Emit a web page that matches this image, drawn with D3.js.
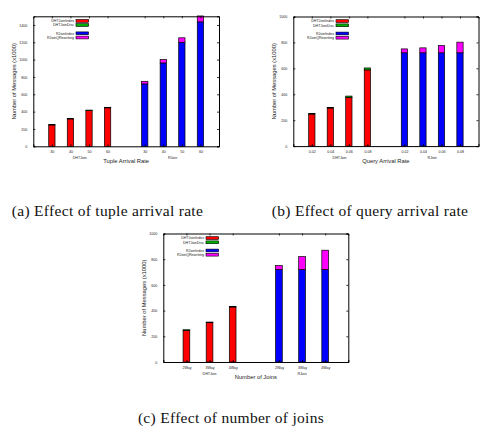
<!DOCTYPE html>
<html>
<head>
<meta charset="utf-8">
<script src="https://cdn.jsdelivr.net/npm/d3@7"></script>
<style>
  body { margin: 0; background: #fff; }
</style>
</head>
<body>
<svg width="483" height="446" font-family="'Liberation Sans', sans-serif"></svg>
<script>

// values (messages x1000)
var groups = ["DHTJoin", "RJoin"];
var legendLabels = ["DHTJoinIndex", "DHTJoinDisc", "RJoinIndex", "RJoinQRewriting"];
var legendColors = ["#ff0000", "#00b000", "#0000ff", "#ff00ff"];

var rateTicks = ["30", "40", "50", "60"];
var dhtIndexA = [246, 316, 412, 444];
var dhtDiscA = [5, 5, 6, 6];
var rjIndexA = [720, 962, 1200, 1436];
var rjRewriteA = [30, 38, 52, 68];

var queryTicks = ["0.02", "0.04", "0.06", "0.08"];
var dhtIndexB = [247, 294, 376, 588];
var dhtDiscB = [5, 5, 10, 15];
var rjIndexB = [720, 720, 720, 720];
var rjRewriteB = [30, 38, 56, 82];

var joinTicks = ["2Way", "3Way", "4Way"];
var dhtIndexC = [246, 306, 428];
var dhtDiscC = [5, 5, 5];
var rjIndexC = [720, 720, 720];
var rjRewriteC = [30, 100, 150];

var svg = d3.select("svg");

function panel(o) {
  var g = svg.append("g").attr("transform", "translate(" + o.left + "," + o.top + ")");
  var k = o.ticks.length;

  var x = d3.scaleLinear().domain([0, 2 * k + 2]).range([0, o.width]);
  var y = d3.scaleLinear().domain([0, o.ymax]).range([o.height, 0]);
  var bw = x(o.barw) - x(0);

  var bars = [];
  o.ticks.forEach(function(t, i) {
    bars.push({pos: i + 1, label: t, stack: [[o.dhtIndex[i], legendColors[0]], [o.dhtDisc[i], legendColors[1]]]});
  });
  o.ticks.forEach(function(t, i) {
    bars.push({pos: k + 2 + i, label: t, stack: [[o.rjIndex[i], legendColors[2]], [o.rjRewrite[i], legendColors[3]]]});
  });

  // bars
  bars.forEach(function(b) {
    var base = 0;
    b.stack.forEach(function(s) {
      g.append("rect")
        .attr("x", x(b.pos) - bw / 2)
        .attr("y", y(base + s[0]))
        .attr("width", bw)
        .attr("height", y(base) - y(base + s[0]))
        .attr("fill", s[1])
        .attr("stroke", "#000")
        .attr("stroke-width", 0.7);
      base += s[0];
    });
  });

  // frame with inward ticks (mirrored)
  var yTicks = d3.range(0, o.ymax + 1, 200);
  var left = d3.axisLeft(y).tickValues(yTicks).tickSize(-2).tickPadding(6).tickFormat(d3.format("d"));
  var right = d3.axisRight(y).tickValues(yTicks).tickSize(-2).tickFormat("");
  var bottom = d3.axisBottom(x).tickValues(bars.map(function(b) { return b.pos; })).tickSize(-2).tickPadding(4)
    .tickFormat(function(d) { return bars.filter(function(b) { return b.pos === d; })[0].label; });
  var top = d3.axisTop(x).tickValues(bars.map(function(b) { return b.pos; })).tickSize(-2).tickFormat("");

  [[left, 0, 0], [right, o.width, 0], [bottom, 0, o.height], [top, 0, 0]].forEach(function(a) {
    var ax = g.append("g").attr("transform", "translate(" + a[1] + "," + a[2] + ")").call(a[0]);
    ax.selectAll("text").attr("font-size", 3.6).attr("fill", "#222").attr("font-family", "'Liberation Sans', sans-serif");
    ax.selectAll("path,line").attr("stroke", "#000").attr("stroke-width", 0.8);
    ax.select(".domain").attr("stroke-width", 1);
  });

  // group labels
  g.selectAll(".grp").data(groups).enter().append("text")
    .attr("x", function(d, i) { return x(i * (k + 1) + (k + 1) / 2); })
    .attr("y", o.height + 13)
    .attr("text-anchor", "middle")
    .attr("font-size", 3.6)
    .attr("fill", "#222")
    .text(function(d) { return d; });

  // axis titles
  g.append("text")
    .attr("x", o.width / 2)
    .attr("y", o.height + 17)
    .attr("text-anchor", "middle")
    .attr("font-size", 5.8)
    .attr("fill", "#222")
    .text(o.xtitle);

  g.append("text")
    .attr("transform", "translate(-19.5," + (o.height / 2) + ") rotate(-90)")
    .attr("text-anchor", "middle")
    .attr("dy", "0.35em")
    .attr("font-size", 5.8)
    .attr("fill", "#222")
    .text("Number of Messages (x1000)");

  // legend
  var ly = [4.6, 8.8, 17, 21.2];
  legendLabels.forEach(function(l, i) {
    g.append("text")
      .attr("x", 40.7)
      .attr("y", ly[i])
      .attr("dy", "0.35em")
      .attr("text-anchor", "end")
      .attr("font-size", 3.6)
      .attr("fill", "#222")
      .text(l);
    g.append("rect")
      .attr("x", 42.7)
      .attr("y", ly[i] - 1.4)
      .attr("width", 12.6)
      .attr("height", 2.8)
      .attr("fill", legendColors[i])
      .attr("stroke", "#000")
      .attr("stroke-width", 0.6);
  });

  // caption
  svg.append("text")
    .attr("x", o.capx)
    .attr("y", o.capy)
    .attr("text-anchor", "middle")
    .attr("font-family", "'Liberation Serif', serif")
    .attr("font-size", 15.5)
    .attr("letter-spacing", 0.3)
    .attr("fill", "#111")
    .text(o.caption);
}

panel({left: 33.3, top: 16.3, width: 185.7, height: 130, ymax: 1500, barw: 0.34,
  ticks: rateTicks, dhtIndex: dhtIndexA, dhtDisc: dhtDiscA, rjIndex: rjIndexA, rjRewrite: rjRewriteA,
  xtitle: "Tuple Arrival Rate", caption: "(a) Effect of tuple arrival rate", capx: 107.5, capy: 215.5});

panel({left: 293.3, top: 16.5, width: 185.2, height: 129.6, ymax: 1000, barw: 0.34,
  ticks: queryTicks, dhtIndex: dhtIndexB, dhtDisc: dhtDiscB, rjIndex: rjIndexB, rjRewrite: rjRewriteB,
  xtitle: "Query Arrival Rate", caption: "(b) Effect of query arrival rate", capx: 370, capy: 215.5});

panel({left: 163.3, top: 233.5, width: 185, height: 128.5, ymax: 1000, barw: 0.29,
  ticks: joinTicks, dhtIndex: dhtIndexC, dhtDisc: dhtDiscC, rjIndex: rjIndexC, rjRewrite: rjRewriteC,
  xtitle: "Number of Joins", caption: "(c) Effect of number of joins", capx: 231, capy: 422.5});

</script>
</body>
</html>
